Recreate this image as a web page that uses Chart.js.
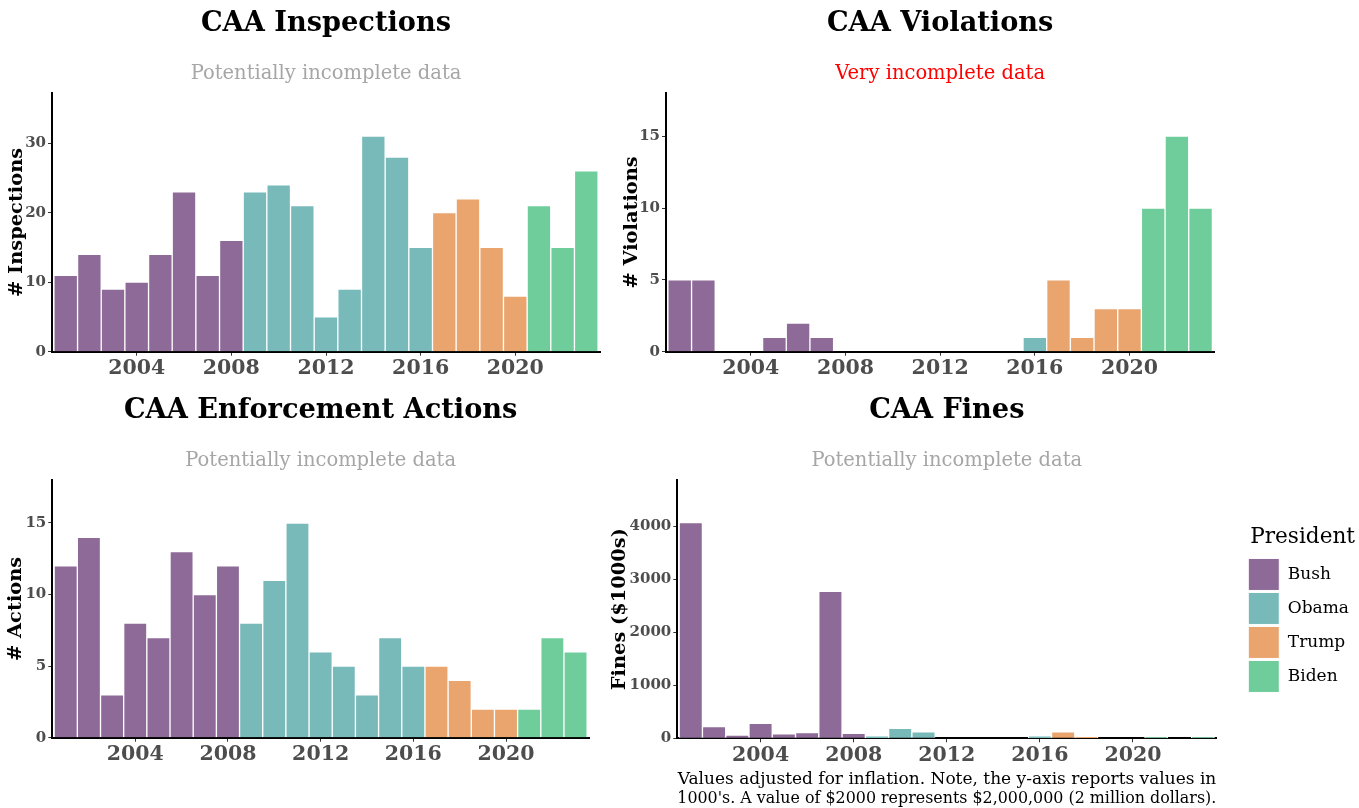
<!DOCTYPE html>
<html>
<head>
<meta charset="utf-8">
<script src="https://cdn.jsdelivr.net/npm/chart.js@4.4.1/dist/chart.umd.min.js"></script>
<style>
  body { margin: 0; background: #fff; width: 1359px; height: 808px; overflow: hidden; }
  canvas { position: absolute; }
</style>
</head>
<body>
<canvas id="inspectionsChart" width="620" height="392" style="left:0px;top:0px"></canvas>
<canvas id="violationsChart" width="620" height="392" style="left:614px;top:0px"></canvas>
<canvas id="actionsChart" width="609" height="389" style="left:0px;top:387px"></canvas>
<canvas id="finesChart" width="759" height="421" style="left:600px;top:387px"></canvas>
<script>
// data
const years = [2001, 2002, 2003, 2004, 2005, 2006, 2007, 2008, 2009, 2010, 2011, 2012,
               2013, 2014, 2015, 2016, 2017, 2018, 2019, 2020, 2021, 2022, 2023];
const presidentOfYear = ["Bush", "Bush", "Bush", "Bush", "Bush", "Bush", "Bush", "Bush",
                         "Obama", "Obama", "Obama", "Obama", "Obama", "Obama", "Obama", "Obama",
                         "Trump", "Trump", "Trump", "Trump", "Biden", "Biden", "Biden"];
const presidents = ["Bush", "Obama", "Trump", "Biden"];
const presidentColors = ["#8d6a97", "#78b9b9", "#eaa56f", "#6ecd9b"];

const inspections = [11, 14, 9, 10, 14, 23, 11, 16, 23, 24, 21, 5, 9, 31, 28, 15, 20, 22, 15, 8, 21, 15, 26];
const violations = [5, 5, 0, 0, 1, 2, 1, 0, 0, 0, 0, 0, 0, 0, 0, 1, 5, 1, 3, 3, 10, 15, 10];
const actions = [12, 14, 3, 8, 7, 13, 10, 12, 8, 11, 15, 6, 5, 3, 7, 5, 5, 4, 2, 2, 2, 7, 6];
const fines = [4070, 220, 63, 283, 82, 107, 2772, 95, 44, 189, 120, 0, 0, 0, 0, 44, 120, 25, 0, 0, 19, 0, 19];

const yearTicks = [2004, 2008, 2012, 2016, 2020];
const inspectionTicks = [0, 10, 20, 30];
const violationTicks = [0, 5, 10, 15];
const actionTicks = [0, 5, 10, 15];
const fineTicks = [0, 1000, 2000, 3000, 4000];

const fineNote = ["Values adjusted for inflation. Note, the y-axis reports values in",
                  "1000's. A value of $2000 represents $2,000,000 (2 million dollars)."];

Chart.defaults.font.family = "'DejaVu Serif', serif";
Chart.defaults.color = "#000";

function datasetsFor(values) {
    return presidents.map((p, k) => ({
        label: p,
        data: years.map((yr, i) => presidentOfYear[i] === p ? {x: yr, y: values[i]} : null).filter(d => d),
        backgroundColor: presidentColors[k],
        borderColor: "#fff",
        borderWidth: 1,
        grouped: false,
        barPercentage: 1,
        categoryPercentage: 1
    }));
}

function makePanel(id, cfg) {
    const ctx = document.getElementById(id).getContext("2d");
    const scales = {
        x: {
            type: "linear",
            min: 2000.42,
            max: 2023.58,
            offset: false,
            z: 1,
            afterBuildTicks: s => { s.ticks = yearTicks.map(v => ({value: v})); },
            afterFit: s => { s.height = cfg.xHeight; },
            ticks: {font: {size: 20.5, weight: "bold"}, color: "#4d4d4d", padding: 1, maxRotation: 0,
                    callback: v => String(v)},
            grid: {display: true, offset: false, drawOnChartArea: false, drawTicks: true, tickLength: 4, color: "#333"},
            border: {display: true, color: "#000", width: 2},
            title: cfg.xTitle || {display: false}
        },
        y: {
            min: 0,
            max: cfg.yMax,
            z: 1,
            afterBuildTicks: s => { s.ticks = cfg.yTicks.map(v => ({value: v})); },
            afterFit: s => { s.width = cfg.yWidth; },
            ticks: {font: {size: 15, weight: "bold"}, color: "#4d4d4d", padding: 2,
                    callback: v => String(v)},
            grid: {display: true, drawOnChartArea: false, drawTicks: true, tickLength: 4, color: "#333"},
            border: {display: true, color: "#000", width: 2},
            title: {display: true, text: cfg.yLabel, color: "#000",
                    font: {size: 19.4, weight: "bold", lineHeight: 1.2},
                    padding: {top: cfg.yTitlePad, bottom: 0}}
        }
    };
    if (cfg.legend) {
        // empty axis that keeps the legend away from the plot
        scales.gap = {
            type: "linear", position: "right", display: true,
            ticks: {display: false}, grid: {display: false}, border: {display: false},
            afterFit: s => { s.width = 30; }
        };
    }
    return new Chart(ctx, {
        type: "bar",
        data: {datasets: datasetsFor(cfg.values)},
        options: {
            responsive: false,
            animation: false,
            devicePixelRatio: 1,
            layout: {padding: {left: 0, right: cfg.rightPad, top: 0, bottom: 0}},
            scales: scales,
            plugins: {
                tooltip: {enabled: false},
                title: {
                    display: true, text: cfg.title, fullSize: false, color: "#000",
                    font: {size: 27.2, weight: "bold", lineHeight: 1.2},
                    padding: {top: 7.7, bottom: 0}
                },
                subtitle: {
                    display: true, text: cfg.subtitle, fullSize: false, color: cfg.subColor,
                    font: {size: 19.5, weight: "normal", lineHeight: 1.2},
                    padding: {top: 22, bottom: 7.3}
                },
                legend: cfg.legend ? {
                    display: true,
                    position: "right",
                    align: "center",
                    labels: {boxWidth: 31, boxHeight: 32, padding: 2, color: "#000", font: {size: 17}},
                    title: {display: true, text: "President", color: "#000", font: {size: 21.6},
                            padding: {top: 26, bottom: 4}}
                } : {display: false}
            }
        }
    });
}

let inspectionsChart = makePanel("inspectionsChart", {
    values: inspections, yTicks: inspectionTicks, yMax: 37.2, yLabel: "# Inspections",
    title: "CAA Inspections", subtitle: "Potentially incomplete data", subColor: "#a6a6a6",
    yWidth: 52, yTitlePad: 5.4, xHeight: 40.3, rightPad: 20
});
let violationsChart = makePanel("violationsChart", {
    values: violations, yTicks: violationTicks, yMax: 18, yLabel: "# Violations",
    title: "CAA Violations", subtitle: "Very incomplete data", subColor: "#ff0000",
    yWidth: 52, yTitlePad: 6.4, xHeight: 40.3, rightPad: 19.7
});
let actionsChart = makePanel("actionsChart", {
    values: actions, yTicks: actionTicks, yMax: 18, yLabel: "# Actions",
    title: "CAA Enforcement Actions", subtitle: "Potentially incomplete data", subColor: "#a6a6a6",
    yWidth: 52.3, yTitlePad: 3.9, xHeight: 38.3, rightPad: 20
});
let finesChart = makePanel("finesChart", {
    values: fines, yTicks: fineTicks, yMax: 4870, yLabel: "Fines ($1000s)",
    title: "CAA Fines", subtitle: "Potentially incomplete data", subColor: "#a6a6a6",
    yWidth: 77.3, yTitlePad: 8.4, xHeight: 69.7, rightPad: 0, legend: true,
    xTitle: {display: true, text: fineNote, align: "end", color: "#000",
             font: {size: 17, lineHeight: 1.1}, padding: {top: 0, bottom: 0}}
});
</script>
</body>
</html>
